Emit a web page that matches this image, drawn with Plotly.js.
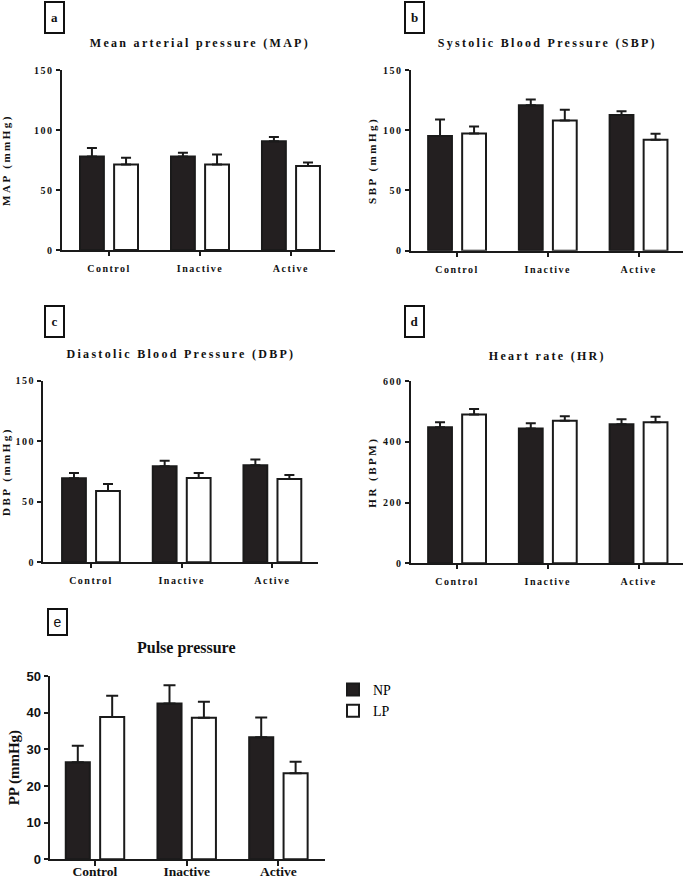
<!DOCTYPE html>
<html>
<head>
<meta charset="utf-8">
<script src="https://cdn.plot.ly/plotly-3.0.1.min.js"></script>
<style>
  html, body { margin: 0; padding: 0; background: #fff; }
  #chart { width: 685px; height: 878px; }
  .subplot.xy text, .subplot.x2y2 text, .subplot.x3y3 text, .subplot.x4y4 text { letter-spacing: 1.5px; }
  .g-ytitle text, .g-y2title text, .g-y3title text, .g-y4title text { letter-spacing: 2.5px; }
  .annotation[data-index="0"] text, .annotation[data-index="1"] text,
  .annotation[data-index="2"] text, .annotation[data-index="3"] text { letter-spacing: 2.3px; }
</style>
</head>
<body>
<div id="chart"></div>
<script>
// ---- data ----
const categories = ['Control', 'Inactive', 'Active'];
const seriesNames = ['NP', 'LP'];

const mapNP = [78.0, 78.0, 90.6];
const mapNPerr = [7.0, 3.0, 3.6];
const mapLP = [71.3, 71.3, 69.9];
const mapLPerr = [5.5, 8.2, 3.0];

const sbpNP = [95.2, 120.8, 112.7];
const sbpNPerr = [13.8, 4.7, 3.0];
const sbpLP = [97.3, 108.0, 92.0];
const sbpLPerr = [5.7, 9.0, 5.0];

const dbpNP = [69.4, 79.3, 80.1];
const dbpNPerr = [4.3, 4.6, 4.9];
const dbpLP = [58.9, 69.6, 68.8];
const dbpLPerr = [5.8, 4.1, 3.3];

const hrNP = [447.5, 444, 458];
const hrNPerr = [16.5, 17, 16];
const hrLP = [490, 469, 464];
const hrLPerr = [18, 15, 18];

const ppNP = [26.5, 42.5, 33.3];
const ppNPerr = [4.5, 5.0, 5.4];
const ppLP = [38.8, 38.6, 23.5];
const ppLPerr = [5.8, 4.4, 3.1];

const panelLetters = ['a', 'b', 'c', 'd', 'e'];
const panelTitles = ['Mean arterial pressure (MAP)', 'Systolic Blood Pressure (SBP)',
  'Diastolic Blood Pressure (DBP)', 'Heart rate (HR)', 'Pulse pressure'];
const yTitles = ['MAP (mmHg)', 'SBP (mmHg)', 'DBP (mmHg)', 'HR (BPM)', 'PP (mmHg)'];
const yTicksBP = [0, 50, 100, 150];
const yTicksHR = [0, 200, 400, 600];
const yTicksPP = [0, 10, 20, 30, 40, 50];

// ---- layout helpers ----
const W = 685, H = 878;
const px = v => v / W;
const py = v => 1 - v / H;
const SERIF = 'Liberation Serif, Times New Roman, serif';
const SANS = 'Liberation Sans, Arial, sans-serif';

const panels = [
  { np: mapNP, npe: mapNPerr, lp: mapLP, lpe: mapLPerr, ticks: yTicksBP, range: [0, 150],
    x0: 61.5, x1: 335, yTop: 70, yBot: 250, xr: [-0.522, 2.484],
    title: [200, 43], box: [54.5, 17], standoff: 26 },
  { np: sbpNP, npe: sbpNPerr, lp: sbpLP, lpe: sbpLPerr, ticks: yTicksBP, range: [0, 150],
    x0: 410.5, x1: 683, yTop: 70, yBot: 250.7, xr: [-0.513, 2.49],
    title: [547, 43], box: [414.5, 17], standoff: 9 },
  { np: dbpNP, npe: dbpNPerr, lp: dbpLP, lpe: dbpLPerr, ticks: yTicksBP, range: [0, 150],
    x0: 43, x1: 318, yTop: 380.7, yBot: 562.3, xr: [-0.529, 2.503],
    title: [181, 354], box: [54, 321], standoff: 9 },
  { np: hrNP, npe: hrNPerr, lp: hrLP, lpe: hrLPerr, ticks: yTicksHR, range: [0, 600],
    x0: 410.5, x1: 683, yTop: 381, yBot: 563.3, xr: [-0.513, 2.49],
    title: [547, 356], box: [414.5, 321], standoff: 9 },
  { np: ppNP, npe: ppNPerr, lp: ppLP, lpe: ppLPerr, ticks: yTicksPP, range: [0, 50],
    x0: 49.5, x1: 325, yTop: 676, yBot: 859.3, xr: [-0.496, 2.508],
    title: [187, 648], box: [57.5, 622], standoff: 3 }
];

const traces = [];
const layout = {
  width: W, height: H,
  margin: { l: 0, r: 0, t: 0, b: 0 },
  paper_bgcolor: '#fff', plot_bgcolor: 'rgba(0,0,0,0)',
  barmode: 'group', bargap: 0.25, bargroupgap: 0.3,
  showlegend: true,
  legend: { x: px(333), y: py(674), xanchor: 'left', yanchor: 'top',
    font: { family: SERIF, size: 14, color: '#000' }, bgcolor: 'rgba(0,0,0,0)',
    tracegroupgap: 0 },
  annotations: [],
  font: { family: SERIF, color: '#000' }
};

// titles first (indices 0..4), then panel letter boxes
panels.forEach((p, i) => {
  const isE = i === 4;
  layout.annotations.push({
    text: panelTitles[i], xref: 'paper', yref: 'paper', x: px(p.title[0]), y: py(p.title[1]),
    xanchor: 'center', yanchor: 'middle', showarrow: false,
    font: { family: SERIF, size: isE ? 16 : 12, weight: 'bold', color: '#111' }
  });
});
panels.forEach((p, i) => {
  const isE = i === 4;
  layout.annotations.push({
    text: panelLetters[i], xref: 'paper', yref: 'paper', x: px(p.box[0]), y: py(p.box[1]),
    xanchor: 'center', yanchor: 'middle', showarrow: false,
    width: 17, height: isE ? 24 : 29, borderpad: 0, bordercolor: '#111', borderwidth: 2,
    font: isE ? { family: SANS, size: 14, color: '#111' } : { family: SERIF, size: 13, weight: 'bold', color: '#111' }
  });
});

panels.forEach((p, i) => {
  const n = i + 1;
  const xa = n === 1 ? 'x' : 'x' + n;
  const ya = n === 1 ? 'y' : 'y' + n;
  const isE = i === 4;
  const zeros = categories.map(() => 0);
  const mk = (vals, errs, name, fill) => ({
    type: 'bar', x: categories, y: vals, name: name, xaxis: xa, yaxis: ya,
    showlegend: isE, legendgroup: name,
    marker: { color: fill, line: { color: '#1a1a1a', width: 2 } },
    error_y: { type: 'data', symmetric: false, array: errs, arrayminus: zeros,
      color: '#1a1a1a', thickness: 2, width: isE ? 6 : 5 },
    hoverinfo: 'skip'
  });
  traces.push(mk(p.np, p.npe, seriesNames[0], '#231f20'));
  traces.push(mk(p.lp, p.lpe, seriesNames[1], '#ffffff'));

  const axKeyX = n === 1 ? 'xaxis' : 'xaxis' + n;
  const axKeyY = n === 1 ? 'yaxis' : 'yaxis' + n;
  layout[axKeyX] = {
    domain: [px(p.x0), px(p.x1)], anchor: ya, type: 'category',
    range: p.xr, showgrid: false, zeroline: false,
    showline: true, linecolor: '#1a1a1a', linewidth: 2,
    ticks: 'outside', ticklen: isE ? 5 : 4, tickwidth: 2, tickcolor: '#1a1a1a',
    ticklabelstandoff: isE ? -7 : 4,
    tickfont: isE ? { family: SERIF, size: 13.5, weight: 'bold', color: '#111' }
                  : { family: SERIF, size: 10, weight: 'bold', color: '#111' },
    fixedrange: true
  };
  layout[axKeyY] = {
    domain: [py(p.yBot), py(p.yTop)], anchor: xa, range: p.range,
    tickmode: 'array', tickvals: p.ticks, ticktext: p.ticks.map(String),
    showgrid: false, zeroline: false,
    showline: true, linecolor: '#1a1a1a', linewidth: 2,
    ticks: 'outside', ticklen: 4, tickwidth: 2, tickcolor: '#1a1a1a',
    tickfont: isE ? { family: SANS, size: 13, weight: 'bold', color: '#111' }
                  : { family: SERIF, size: 10, weight: 'bold', color: '#111' },
    title: { text: yTitles[i], standoff: p.standoff,
      font: isE ? { family: SERIF, size: 15, weight: 'bold', color: '#111' }
                : { family: SERIF, size: 11, weight: 'bold', color: '#111' } },
    fixedrange: true
  };
});

Plotly.newPlot('chart', traces, layout, { displayModeBar: false, staticPlot: true });
</script>
</body>
</html>
